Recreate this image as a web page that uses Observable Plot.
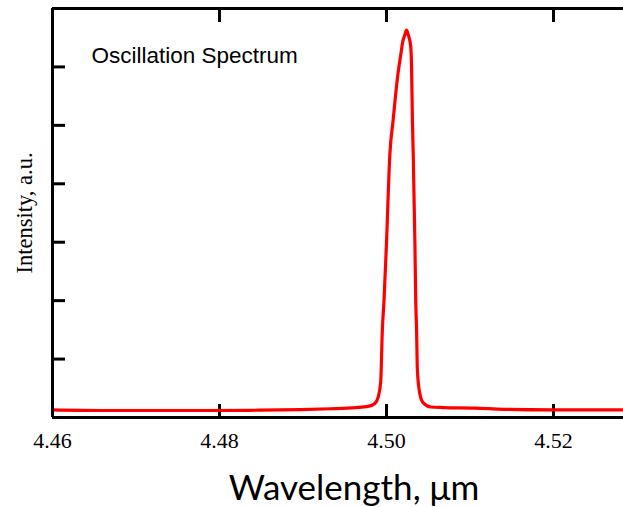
<!DOCTYPE html>
<html>
<head>
<meta charset="utf-8">
<script src="https://cdn.jsdelivr.net/npm/d3@7"></script>
<script src="https://cdn.jsdelivr.net/npm/@observablehq/plot@0.6"></script>
<style>
  html, body { margin: 0; padding: 0; background: #fff; }
  #chart { width: 623px; height: 507px; overflow: hidden; }
</style>
</head>
<body>
<div id="chart"></div>
<script>
// Wavelength (µm) and intensity (a.u.)
const wavelength = [
  4.4600, 4.4657, 4.4717, 4.4799, 4.4849, 4.4897, 4.4933, 4.4963, 4.4978,
  4.4986, 4.4990, 4.4993, 4.4995, 4.4997, 4.5000, 4.5004, 4.5008, 4.5013,
  4.5018, 4.5019, 4.5022, 4.5024, 4.5026, 4.5029, 4.5030, 4.5031, 4.5032,
  4.5034, 4.5035, 4.5036, 4.5037, 4.5040, 4.5044, 4.5053, 4.5068, 4.5105,
  4.5141, 4.5200, 4.5284
];
const intensity = [
  0.13, 0.12, 0.12, 0.12, 0.125, 0.135, 0.15, 0.17, 0.19,
  0.24, 0.35, 0.6, 1.5, 2.0, 3.0, 4.5, 5.1, 5.8,
  6.3, 6.4, 6.55, 6.63, 6.55, 6.35, 6.0, 5.1, 4.5,
  3.0, 2.0, 1.5, 0.8, 0.4, 0.25, 0.18, 0.17, 0.16,
  0.14, 0.13, 0.13
];
const xTicks = [4.46, 4.48, 4.50, 4.52];
const xTickLabels = ["4.46", "4.48", "4.50", "4.52"];
const yTicks = [1, 2, 3, 4, 5, 6];
const xDomain = [4.46, 4.52838];
const yDomain = [0, 7];
const title = "Oscillation Spectrum";
const xLabel = "Wavelength, μm";
const yLabel = "Intensity, a.u.";

const data = wavelength.map((w, i) => ({w, v: intensity[i]}));
const tickLabelData = xTicks.map((t, i) => ({t, label: xTickLabels[i]}));

const chart = Plot.plot({
  width: 623,
  height: 507,
  marginLeft: 52,
  marginRight: 0,
  marginTop: 8,
  marginBottom: 90,
  x: {domain: xDomain},
  y: {domain: yDomain},
  style: {background: "#fff", overflow: "visible"},
  marks: [
    // inward tick marks
    Plot.axisX(xTicks, {anchor: "bottom", tickSize: -13, strokeWidth: 3, stroke: "#000", tickFormat: () => "", label: null}),
    Plot.axisX(xTicks, {anchor: "top", tickSize: -13, strokeWidth: 3, stroke: "#000", tickFormat: () => "", label: null}),
    Plot.axisY(yTicks, {anchor: "left", tickSize: -13, strokeWidth: 3, stroke: "#000", tickFormat: () => "", label: null}),
    // tick labels
    Plot.text(tickLabelData, {x: "t", text: "label", frameAnchor: "bottom", dy: 15, lineAnchor: "top", textAnchor: "middle",
      fontFamily: "Liberation Serif", fontSize: 22, fill: "#000"}),
    // data line
    Plot.line(data, {x: "w", y: "v", stroke: "#ff0000", strokeWidth: 3.2, curve: "monotone-x"}),
    // frame (left, top, bottom)
    Plot.ruleY([yDomain[0]], {stroke: "#000", strokeWidth: 3}),
    Plot.ruleY([yDomain[1]], {stroke: "#000", strokeWidth: 3}),
    Plot.ruleX([xDomain[0]], {stroke: "#000", strokeWidth: 3}),
    // texts
    Plot.text([title], {frameAnchor: "top-left", dx: 39, dy: 39, lineAnchor: "top", textAnchor: "start",
      fontFamily: "Liberation Sans", fontSize: 22.5, fill: "#000"}),
    Plot.text([yLabel], {frameAnchor: "left", rotate: -90, dx: -28, textAnchor: "middle", lineAnchor: "middle",
      fontFamily: "Liberation Serif", fontSize: 22.5, fill: "#000"}),
    Plot.text([xLabel], {frameAnchor: "bottom", dx: 16, dy: 71, lineAnchor: "middle", textAnchor: "middle",
      fontFamily: "Lato", fontSize: 35, fill: "#000"})
  ]
});
document.getElementById("chart").appendChild(chart);
</script>
</body>
</html>
